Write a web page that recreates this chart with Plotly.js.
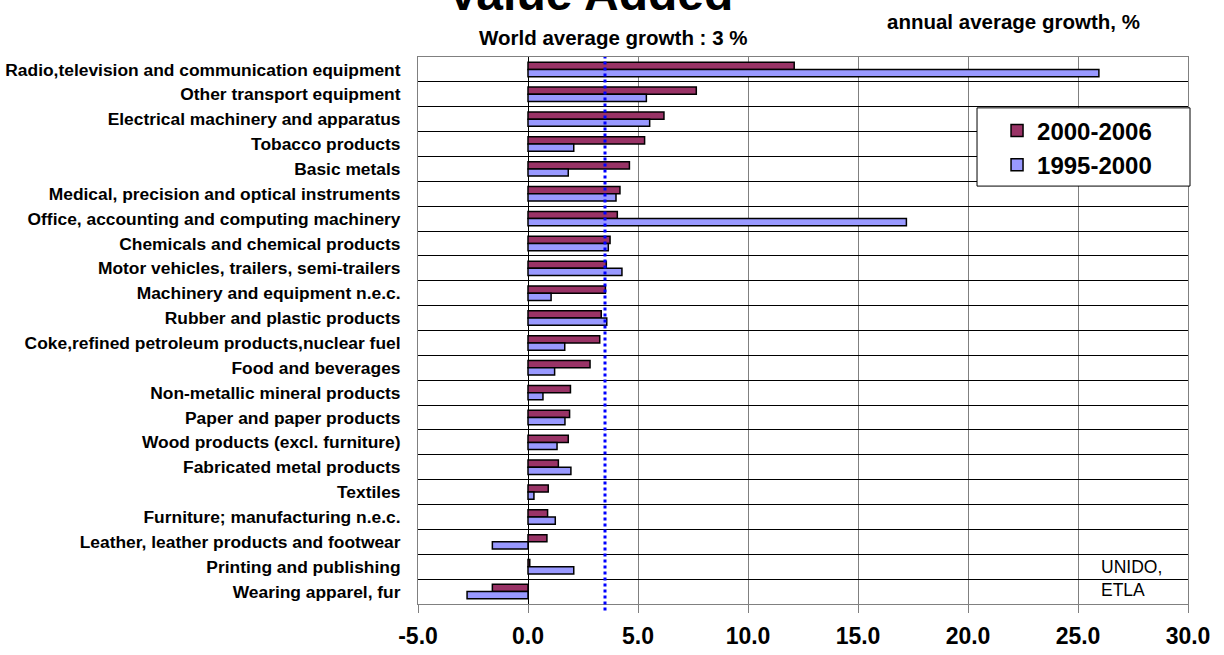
<!DOCTYPE html>
<html>
<head>
<meta charset="utf-8">
<script src="https://cdn.plot.ly/plotly-3.0.1.min.js"></script>
<style>html,body{margin:0;padding:0;background:#fff;}#chart{width:1224px;height:655px;}</style>
</head>
<body>
<div id="chart"></div>
<script>
var categories = [
  "Radio,television and communication equipment",
  "Other transport equipment",
  "Electrical machinery and apparatus",
  "Tobacco products",
  "Basic metals",
  "Medical, precision and optical instruments",
  "Office, accounting and computing machinery",
  "Chemicals and chemical products",
  "Motor vehicles, trailers, semi-trailers",
  "Machinery and equipment n.e.c.",
  "Rubber and plastic products",
  "Coke,refined petroleum products,nuclear fuel",
  "Food and beverages",
  "Non-metallic mineral products",
  "Paper and paper products",
  "Wood products (excl. furniture)",
  "Fabricated metal products",
  "Textiles",
  "Furniture; manufacturing n.e.c.",
  "Leather, leather products and footwear",
  "Printing and publishing",
  "Wearing apparel, fur"
];
var growth2000_2006 = [12.1, 7.65, 6.18, 5.3, 4.61, 4.18, 4.06, 3.73, 3.56, 3.52, 3.33, 3.26, 2.82, 1.93, 1.89, 1.83, 1.38, 0.92, 0.89, 0.86, 0.08, -1.62];
var growth1995_2000 = [25.95, 5.38, 5.53, 2.08, 1.83, 4.0, 17.2, 3.65, 4.27, 1.05, 3.58, 1.67, 1.21, 0.68, 1.68, 1.32, 1.95, 0.27, 1.24, -1.62, 2.08, -2.77];
var seriesNames = ["2000-2006", "1995-2000"];
var worldAverage = [3.5];
var xTicks = [-5, 0, 5, 10, 15, 20, 25, 30];
var xTickLabels = ["-5.0", "0.0", "5.0", "10.0", "15.0", "20.0", "25.0", "30.0"];

var FONT = "Liberation Sans, Arial, sans-serif";

var traces = [
  {type: "bar", orientation: "h", name: seriesNames[0], y: categories, x: growth2000_2006,
   legendgroup: "a",
   marker: {color: "#993366", line: {color: "#000", width: 1.5}}, hoverinfo: "x+y"},
  {type: "bar", orientation: "h", name: seriesNames[1], y: categories, x: growth1995_2000,
   legendgroup: "b",
   marker: {color: "#9999FF", line: {color: "#000", width: 1.5}}, hoverinfo: "x+y"}
];

var layout = {
  width: 1224, height: 655,
  margin: {l: 418, r: 36, t: 57, b: 51},
  paper_bgcolor: "#fff", plot_bgcolor: "#fff",
  font: {family: FONT, color: "#000"},
  barmode: "group",
  bargap: 0.42,
  bargroupgap: 0,
  showlegend: true,
  legend: {x: 0.752, y: 0.906, xanchor: "left", yanchor: "top",
           bgcolor: "rgba(0,0,0,0)", borderwidth: 0,
           font: {size: 24, family: FONT, weight: "bold"},
           tracegroupgap: 8, traceorder: "normal"},
  xaxis: {
    range: [-5, 30], tickvals: xTicks, ticktext: xTickLabels,
    showgrid: true, gridcolor: "#808080", gridwidth: 1,
    zeroline: true, zerolinecolor: "#000", zerolinewidth: 1,
    showline: true, linecolor: "#808080", linewidth: 1, mirror: true,
    ticks: "outside", ticklen: 8, tickcolor: "#808080",
    ticklabelstandoff: 3,
    tickfont: {size: 23, weight: "bold", family: FONT}
  },
  yaxis: {
    type: "category", autorange: "reversed",
    tickson: "boundaries", showgrid: true, gridcolor: "#000", gridwidth: 1,
    showline: true, linecolor: "#808080", linewidth: 1, mirror: true,
    ticks: "", ticklabelstandoff: 13,
    tickfont: {size: 17.4, weight: "bold", family: FONT}
  },
  shapes: [
    {type: "line", xref: "x", yref: "paper", x0: worldAverage[0], x1: worldAverage[0], y0: -0.012, y1: 1,
     line: {color: "#0000FF", width: 3, dash: "dot"}},
    {type: "rect", xref: "paper", yref: "paper", x0: 0.726, x1: 1.0026, y0: 0.764, y1: 0.907,
     fillcolor: "#fff", line: {color: "#000", width: 1}, layer: "above"}
  ],
  annotations: [
    {text: "Value Added", xref: "paper", yref: "paper", x: 0.223, y: 1.117, xanchor: "center", yanchor: "middle",
     showarrow: false, font: {size: 48, weight: "bold"}},
    {text: "World average growth : 3 %", xref: "paper", yref: "paper", x: 0.253, y: 1.036, xanchor: "center", yanchor: "middle",
     showarrow: false, font: {size: 20.5, weight: "bold"}},
    {text: "annual average growth, %", xref: "paper", yref: "paper", x: 0.774, y: 1.064, xanchor: "center", yanchor: "middle",
     showarrow: false, font: {size: 20.5, weight: "bold"}},
    {text: "UNIDO,<br>ETLA", xref: "paper", yref: "paper", x: 0.885, y: 0.09, xanchor: "left", yanchor: "top",
     align: "left", showarrow: false, font: {size: 17.5}}
  ]
};

Plotly.newPlot("chart", traces, layout, {displayModeBar: false, staticPlot: true});
</script>
</body>
</html>
